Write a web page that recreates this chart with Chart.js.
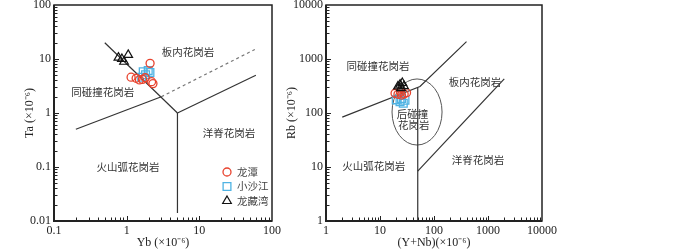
<!DOCTYPE html>
<html>
<head>
<meta charset="utf-8">
<script src="https://cdn.jsdelivr.net/npm/chart.js@4.4.1/dist/chart.umd.min.js"></script>
<style>
    html, body { margin: 0; padding: 0; background: #fff; overflow: hidden; }
    body { width: 700px; height: 252px; position: relative; }
    canvas { position: absolute; }
    #taYbChart { left: 0; top: -20px; }
    #rbChart { left: 280px; top: -20px; }
</style>
</head>
<body>
<canvas id="taYbChart" width="300" height="272"></canvas>
<canvas id="rbChart" width="300" height="272"></canvas>
<script>
// ---- Ta - Yb ----
const ybTicks = [0.1, 1, 10, 100];
const taTicks = [0.01, 0.1, 1, 10, 100];

const longtanYb = [1.15, 1.35, 1.5, 1.65, 1.8, 2.1, 2.2, 2.3];
const longtanTa = [4.6, 4.4, 4.1, 4.2, 4.5, 8.3, 3.8, 3.5];
const xiaoshajiangYb = [1.61, 1.69, 1.82, 1.98, 2.09];
const xiaoshajiangTa = [4.6, 5.8, 5.1, 6.1, 5.6];
const longzangwanYb = [0.77, 0.86, 0.92, 1.05];
const longzangwanTa = [10.6, 10.0, 8.9, 11.9];

// boundary lines (Yb, Ta)
const wpgLineYb = [0.5, 5];      const wpgLineTa = [20, 1];
const colgLineYb = [0.2, 3];     const colgLineTa = [0.5, 2];
const orgDashYb = [3, 58];       const orgDashTa = [2, 15];
const orgLineYb = [5, 60];       const orgLineTa = [1, 5];
const vagLineYb = [5, 5];        const vagLineTa = [1, 0.014];

const taYbLabels = ['板内花岗岩', '同碰撞花岗岩', '洋脊花岗岩', '火山弧花岗岩'];
const taYbLabelYb = [7.0, 0.47, 25.5, 1.04];
const taYbLabelTa = [13.5, 2.45, 0.43, 0.1];

// ---- Rb - (Y+Nb) ----
const ynbTicks = [1, 10, 100, 1000, 10000];
const rbTicks = [1, 10, 100, 1000, 10000];

const longtanYNb = [19, 21.5, 25, 28, 31, 24];
const longtanRb = [232, 222, 215, 225, 238, 242];
const xiaoshajiangYNb = [20, 23.5, 27, 29, 25];
const xiaoshajiangRb = [175, 162, 152, 172, 185];
const longzangwanYNb = [21.5, 23.5, 25.9, 27.8, 24.5];
const longzangwanRb = [310, 335, 360, 315, 290];

const colgLine2YNb = [2, 55, 400];  const colgLine2Rb = [84, 310, 2100];
const vagLine2YNb = [50, 50];       const vagLine2Rb = [1, 298];
const orgLine2YNb = [50, 2000];     const orgLine2Rb = [8.4, 430];
const postColgYNb = [16.7, 141];    const postColgRb = [25.5, 427];

const rbLabels = ['同碰撞花岗岩', '板内花岗岩', '后碰撞', '花岗岩', '洋脊花岗岩', '火山弧花岗岩'];
const rbLabelYNb = [9.2, 575, 40, 42, 650, 7.7];
const rbLabelRb = [740, 375, 96, 60, 13.5, 10.5];

const seriesNames = ['龙潭', '小沙江', '龙藏湾'];

const SERIF = "'Liberation Serif', 'Times New Roman', serif";
const CJK = "'Noto Sans CJK SC', sans-serif";
const RED = '#e8432e';
const BLUE = '#4fb3e3';
const INK = '#222';

const zip = (xs, ys) => xs.map((v, i) => ({ x: v, y: ys[i] }));

function pointSets(xs) {
    return [
        { label: seriesNames[2], data: zip(xs[4], xs[5]), pointStyle: 'triangle', pointRadius: 5, borderColor: '#111', backgroundColor: 'rgba(0,0,0,0)', borderWidth: 1.2 },
        { label: seriesNames[0], data: zip(xs[0], xs[1]), pointStyle: 'circle', pointRadius: 4, borderColor: RED, backgroundColor: 'rgba(0,0,0,0)', borderWidth: 1.3 },
        { label: seriesNames[1], data: zip(xs[2], xs[3]), pointStyle: 'rect', pointRadius: 5.5, borderColor: BLUE, backgroundColor: 'rgba(0,0,0,0)', borderWidth: 1.3 }
    ];
}

function lineSet(xs, ys, dashed) {
    return {
        data: zip(xs, ys), showLine: true, pointRadius: 0, borderWidth: 1.2,
        borderColor: dashed ? '#777' : '#333', borderDash: dashed ? [3, 3] : [], fill: false
    };
}

function logAxis(min, max, tickVals, titleText, size, titlePad) {
    return {
        type: 'logarithmic', min: min, max: max,
        grid: { display: false, drawTicks: false },
        border: { display: false },
        afterBuildTicks: s => { s.ticks = tickVals.map(v => ({ value: v })); },
        afterFit: s => { if (s.isHorizontal()) s.height = size; else s.width = size; },
        ticks: { autoSkip: false, maxRotation: 0, padding: 3, color: INK, font: { family: SERIF, size: 12 }, callback: v => String(v) },
        title: { display: true, text: titleText, color: INK, font: { family: SERIF, size: 12 }, padding: titlePad }
    };
}

// frame, inward minor ticks, region texts, legend, ellipse
const decorPlugin = {
    id: 'decor',
    beforeDatasetsDraw(chart, args, opts) {
        const { ctx, scales: { x, y } } = chart;
        ctx.save();
        if (opts.ellipse) {
            const e = opts.ellipse;
            const x0 = x.getPixelForValue(e.xs[0]), x1 = x.getPixelForValue(e.xs[1]);
            const y0 = y.getPixelForValue(e.ys[0]), y1 = y.getPixelForValue(e.ys[1]);
            ctx.strokeStyle = '#555';
            ctx.lineWidth = 1;
            ctx.beginPath();
            ctx.ellipse((x0 + x1) / 2, (y0 + y1) / 2, Math.abs(x1 - x0) / 2, Math.abs(y1 - y0) / 2, 0, 0, Math.PI * 2);
            ctx.stroke();
        }
        ctx.fillStyle = '#333';
        ctx.font = '10.5px ' + CJK;
        ctx.textAlign = 'center';
        ctx.textBaseline = 'middle';
        opts.texts.forEach((t, i) => {
            ctx.fillText(t, x.getPixelForValue(opts.textX[i]), y.getPixelForValue(opts.textY[i]));
        });
        ctx.restore();
    },
    afterDraw(chart, args, opts) {
        const { ctx, chartArea: a, scales: { x, y } } = chart;
        ctx.save();
        ctx.strokeStyle = INK;
        ctx.lineWidth = 1;
        ctx.beginPath();
        for (let d = Math.round(Math.log10(x.min)); d < Math.round(Math.log10(x.max)); d++) {
            for (let m = 1; m < 10; m++) {
                const px = Math.round(x.getPixelForValue(m * Math.pow(10, d))) + 0.5;
                const len = m === 1 ? 5 : 3.5;
                ctx.moveTo(px, a.bottom); ctx.lineTo(px, a.bottom - len);
            }
        }
        for (let d = Math.round(Math.log10(y.min)); d < Math.round(Math.log10(y.max)); d++) {
            for (let m = 1; m < 10; m++) {
                const py = Math.round(y.getPixelForValue(m * Math.pow(10, d))) + 0.5;
                const len = m === 1 ? 5 : 3.5;
                ctx.moveTo(a.left, py); ctx.lineTo(a.left + len, py);
            }
        }
        ctx.stroke();
        ctx.lineWidth = 1.5;
        ctx.strokeRect(a.left, a.top, a.right - a.left, a.bottom - a.top);
        ctx.lineWidth = 2;
        ctx.beginPath();
        ctx.moveTo(a.left, a.top); ctx.lineTo(a.left, a.bottom); ctx.lineTo(a.right, a.bottom);
        ctx.stroke();

        if (opts.legend) {
            const rows = [1, 2, 0]; // 龙潭, 小沙江, 龙藏湾
            rows.forEach((di, i) => {
                const ds = chart.data.datasets[di];
                const cx = a.right - 45, cy = a.bottom - 49 + i * 14.5;
                ctx.fillStyle = 'rgba(0,0,0,0)';
                ctx.strokeStyle = ds.borderColor;
                ctx.lineWidth = ds.borderWidth;
                Chart.helpers.drawPoint(ctx, { pointStyle: ds.pointStyle, radius: ds.pointRadius, borderWidth: ds.borderWidth }, cx, cy);
                ctx.fillStyle = '#444';
                ctx.font = '10.5px ' + CJK;
                ctx.textAlign = 'left';
                ctx.textBaseline = 'middle';
                ctx.fillText(ds.label, cx + 10, cy);
            });
        }
        ctx.restore();
    }
};

function makeChart(id, datasets, xAxis, yAxis, padRight, decor) {
    return new Chart(document.getElementById(id), {
        type: 'scatter',
        data: { datasets: datasets },
        options: {
            responsive: false,
            animation: false,
            events: [],
            layout: { padding: { left: 0, top: 25, right: padRight, bottom: 0 } },
            plugins: { legend: { display: false }, tooltip: { enabled: false }, decor: decor },
            scales: { x: xAxis, y: yAxis }
        },
        plugins: [decorPlugin]
    });
}

makeChart('taYbChart',
    pointSets([longtanYb, longtanTa, xiaoshajiangYb, xiaoshajiangTa, longzangwanYb, longzangwanTa]).concat([
        lineSet(wpgLineYb, wpgLineTa), lineSet(colgLineYb, colgLineTa), lineSet(orgDashYb, orgDashTa, true),
        lineSet(orgLineYb, orgLineTa), lineSet(vagLineYb, vagLineTa)
    ]),
    logAxis(0.1, 100, ybTicks, 'Yb (×10⁻⁶)', 31, { top: 0, bottom: 2 }),
    logAxis(0.01, 100, taTicks, 'Ta (×10⁻⁶)', 54, { top: 23, bottom: 0 }),
    28,
    { texts: taYbLabels, textX: taYbLabelYb, textY: taYbLabelTa, legend: true }
);

makeChart('rbChart',
    pointSets([longtanYNb, longtanRb, xiaoshajiangYNb, xiaoshajiangRb, longzangwanYNb, longzangwanRb]).concat([
        lineSet(colgLine2YNb, colgLine2Rb), lineSet(vagLine2YNb, vagLine2Rb), lineSet(orgLine2YNb, orgLine2Rb)
    ]),
    logAxis(1, 10000, ynbTicks, '(Y+Nb)(×10⁻⁶)', 31, { top: 0, bottom: 2 }),
    logAxis(1, 10000, rbTicks, 'Rb (×10⁻⁶)', 46, { top: 5, bottom: 0 }),
    38,
    { texts: rbLabels, textX: rbLabelYNb, textY: rbLabelRb, ellipse: { xs: postColgYNb, ys: postColgRb } }
);
</script>
</body>
</html>
